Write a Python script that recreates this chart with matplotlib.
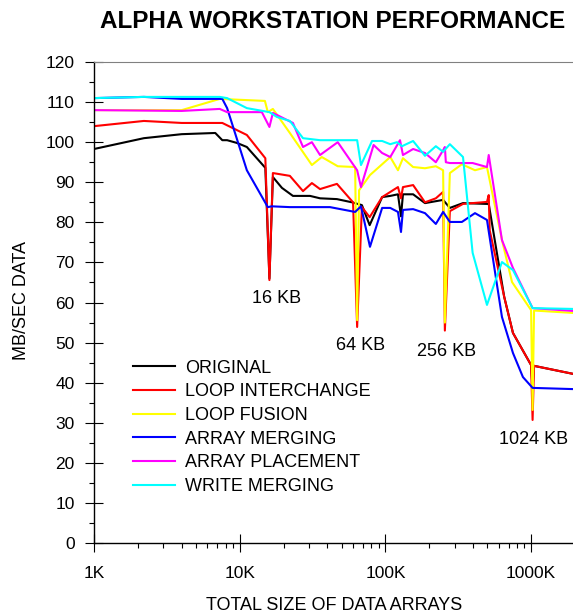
import matplotlib
matplotlib.use('Agg')
import matplotlib.pyplot as plt
from matplotlib.ticker import FixedLocator, LogLocator, NullFormatter, MultipleLocator

plt.rcParams['font.family'] = ['Liberation Sans', 'DejaVu Sans']

# total size of data arrays (KB) and rate (MB/sec) per version
orig_x = [1, 2.2, 4, 6.8, 7.6, 8.2, 9.6, 11.2, 15, 16, 16.9, 19.5, 23.2, 30.4, 35.6, 46.5, 59, 69, 78, 95,
          108, 122, 128, 132, 155, 187, 249, 277, 341, 498, 512, 654, 751, 1000, 1024, 1048, 1940]
orig_y = [98.3, 101, 102, 102.3, 100.5, 100.5, 99.8, 98.8, 93.6, 66, 91.3, 88.6, 86.6, 86.6, 86, 85.8, 85, 84.3, 79.3, 86.3,
          86.6, 87, 81.5, 87, 87, 84.8, 85.6, 83.6, 84.8, 84.6, 84.6, 61.4, 52.4, 44.4, 38.7, 44.2, 42.2]

inter_x = [1, 2.2, 4, 7.6, 11.2, 15, 16, 16.9, 22.1, 27.2, 31.3, 35.6, 46.5, 60, 64, 69, 78, 95, 122, 128,
           132, 155, 187, 222, 249, 256, 277, 341, 498, 512, 520, 654, 751, 1000, 1024, 1048, 1940]
inter_y = [104, 105.3, 104.8, 104.8, 101.8, 96, 65.6, 92.3, 91.6, 87.8, 89.8, 88.3, 89.6, 85, 53.9, 83.8, 81.3, 86.3, 88.8, 86,
           88.8, 89.3, 85, 86, 87.6, 53, 82.8, 84.6, 85.1, 86.8, 78, 61.4, 52.4, 44.4, 30.7, 44.2, 42.2]

fus_x = [1, 4, 7.3, 14.9, 15.6, 16.9, 22.1, 31.3, 36.6, 47.1, 62, 64, 66, 78.4, 108, 122, 132, 155, 187, 222,
         249, 256, 277, 335, 412, 498, 631, 740, 1000, 1024, 1048, 1940]
fus_y = [108, 108, 110.8, 110.3, 107.5, 108.3, 102.3, 94.3, 96.3, 94, 93.8, 55.6, 88, 91.8, 96.3, 93, 96, 93.8, 93.5, 94,
         93, 55, 92.3, 94.5, 93, 93.8, 75.6, 65.1, 58.1, 33.2, 58, 57.4]

merge_x = [1, 2.2, 4, 7.6, 8.2, 11.2, 15.6, 16.6, 22.1, 41.7, 62, 68, 78.4, 95, 108, 122, 128, 132, 155, 187,
           222, 249, 277, 335, 412, 498, 631, 751, 879, 1024, 1940]
merge_y = [111, 111.3, 110.8, 110.8, 108.5, 93, 83.8, 84, 83.8, 83.8, 82.6, 84, 73.9, 83.6, 83.6, 82.6, 77.6, 83.1, 83.3, 82.3,
           79.6, 82.6, 80.1, 80.1, 82.3, 80.6, 56.4, 47.4, 41.4, 38.7, 38.4]

place_x = [1, 4, 7.3, 8.2, 14.2, 16, 16.9, 23.2, 27.2, 31.3, 35.6, 47.1, 64, 68, 83, 95, 108, 126, 132, 155,
           187, 222, 249, 256, 260, 277, 397, 498, 512, 631, 751, 1024, 1940]
place_y = [108, 107.8, 108.3, 107.5, 107.5, 103.8, 107.3, 104.8, 98.8, 100, 96.8, 100, 93, 88.8, 99.3, 97.3, 96.3, 100.5, 96.8, 98.3,
           97.3, 95, 98, 98.8, 95, 94.8, 94.8, 93.8, 96.8, 75.6, 68.6, 58.6, 57.9]

write_x = [1, 2.2, 7.3, 8.2, 11.2, 16, 18, 22.1, 27.2, 35.6, 64, 68, 81, 95, 108, 120, 130, 155, 187, 222,
           249, 277, 341, 397, 498, 631, 751, 1024, 1940]
write_y = [111, 111.3, 111.3, 111, 108.5, 107.5, 106.3, 105.3, 101, 100.5, 100.5, 94.3, 100.3, 100.3, 99.5, 100, 99, 100.3, 96.6, 99,
           97.6, 99.5, 96.3, 72.4, 59.4, 70.1, 68.1, 58.6, 58.4]

names = ['ORIGINAL', 'LOOP INTERCHANGE', 'LOOP FUSION', 'ARRAY MERGING', 'ARRAY PLACEMENT', 'WRITE MERGING']
colors = ['black', 'red', 'yellow', 'blue', 'magenta', 'cyan']

cache_labels = ['16 KB', '64 KB', '256 KB', '1024 KB']
cache_label_x = [18, 68, 261, 1047]
cache_label_y = [60.9, 49.2, 47.7, 25.7]

xtick_pos = [1, 10, 100, 1000]
xtick_labels = ['1K', '10K', '100K', '1000K']

fig = plt.figure(figsize=(5.73, 6.16), dpi=100)
ax = fig.add_axes([0.1640, 0.1185, 0.8394, 0.7808])

all_x = [orig_x, inter_x, fus_x, merge_x, place_x, write_x]
all_y = [orig_y, inter_y, fus_y, merge_y, place_y, write_y]
for xs, ys, c, name in zip(all_x, all_y, colors, names):
    ax.plot(xs, ys, color=c, lw=1.5, label=name)

for lab, lx, ly in zip(cache_labels, cache_label_x, cache_label_y):
    ax.text(lx, ly, lab, ha='center', va='center', fontsize=13)

ax.set_xscale('log')
ax.set_xlim(1, 2000)
ax.set_ylim(0, 120)
ax.xaxis.set_major_locator(FixedLocator(xtick_pos))
ax.set_xticklabels(xtick_labels)
ax.xaxis.set_minor_locator(LogLocator(base=10, subs=range(2, 10)))
ax.xaxis.set_minor_formatter(NullFormatter())
ax.yaxis.set_major_locator(MultipleLocator(10))
ax.yaxis.set_minor_locator(MultipleLocator(5))

ax.tick_params(which='major', direction='inout', length=13, width=0.8, labelsize=12.5)
ax.tick_params(which='minor', direction='out', length=3.6, width=0.8)
ax.tick_params(axis='x', which='major', pad=10)
ax.tick_params(axis='y', which='major', pad=7.5)

ax.spines['right'].set_visible(False)
ax.spines['top'].set_color('#808080')
ax.spines['left'].set_linewidth(1.0)
ax.spines['bottom'].set_linewidth(1.0)

ax.legend(loc='upper left', bbox_to_anchor=(0.081, 0.381), frameon=False, fontsize=13,
          handlelength=2.33, handletextpad=0.55, labelspacing=0.37, borderpad=0, borderaxespad=0)

fig.text(333 / 573, 1 - 22 / 616, 'ALPHA WORKSTATION PERFORMANCE', ha='center', va='center',
         fontsize=17.5, fontweight='bold')
fig.text(22 / 573, 1 - 300 / 616, 'MB/SEC DATA', ha='center', va='center', rotation=90, fontsize=13)
fig.text(334 / 573, 1 - 606 / 616, 'TOTAL SIZE OF DATA ARRAYS', ha='center', va='center', fontsize=13)

fig.savefig('out.png', dpi=100)
